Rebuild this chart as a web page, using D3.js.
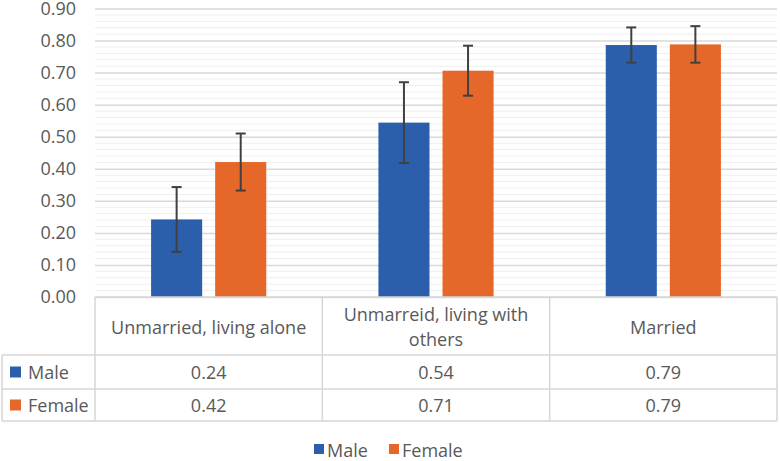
<!DOCTYPE html>
<html><head><meta charset="utf-8">
<script src="https://cdn.jsdelivr.net/npm/d3@7"></script>
<style>
html,body{margin:0;padding:0;background:#fff;}
svg{display:block;font-family:"Open Sans",sans-serif;}
</style></head>
<body><svg id="c" width="780" height="461"></svg>
<script>
const categories = ["Unmarried, living alone", "Unmarreid, living with others", "Married"];
const seriesNames = ["Male", "Female"];
const maleValues = [0.242, 0.544, 0.786];
const femaleValues = [0.421, 0.706, 0.788];
const maleErrors = [0.101, 0.126, 0.055];
const femaleErrors = [0.089, 0.078, 0.057];
const yTicks = [0, 0.1, 0.2, 0.3, 0.4, 0.5, 0.6, 0.7, 0.8, 0.9];
const colors = ["#2B5FAC", "#E6672A"];

const series = [
  {name: seriesNames[0], values: maleValues, errors: maleErrors, color: colors[0]},
  {name: seriesNames[1], values: femaleValues, errors: femaleErrors, color: colors[1]}
];

const svg = d3.select("#c");
const L = 95, R = 777, T = 8.5, B = 297;
const tableLeft = 2;
const rowY = [297, 355, 389, 421];
const textColor = "#595959";
const fontSize = 18;

const y = d3.scaleLinear().domain([0, 0.9]).range([B, T]);
const x0 = d3.scaleBand().domain(categories).range([L, R]).paddingInner(0).paddingOuter(0);
const x1 = d3.scaleBand().domain(seriesNames).range([0, x0.bandwidth()]).paddingInner(0.203).paddingOuter(0.875);

// minor gridlines
const minor = d3.range(0, 0.9001, 0.02).filter(v => Math.abs(Math.round(v * 10) - v * 10) > 1e-6);
svg.append("g").selectAll("line").data(minor).join("line")
  .attr("x1", L).attr("x2", R)
  .attr("y1", d => y(d)).attr("y2", d => y(d))
  .attr("stroke", "#eeeeee").attr("stroke-width", 1);

// y axis with major gridlines
const yAxis = d3.axisLeft(y).tickValues(yTicks).tickFormat(d3.format(".2f")).tickSize(-(R - L)).tickPadding(19);
const gy = svg.append("g").attr("transform", `translate(${L},0)`).call(yAxis);
gy.select(".domain").remove();
gy.selectAll(".tick line").attr("stroke", "#d9d9d9").attr("stroke-width", 1.5);
gy.selectAll(".tick text").attr("fill", textColor).attr("font-size", fontSize)
  .attr("font-family", "'Open Sans',sans-serif");

// bars
const gBars = svg.append("g");
series.forEach(s => {
  gBars.append("g").selectAll("rect").data(categories).join("rect")
    .attr("x", (c) => x0(c) + x1(s.name))
    .attr("width", x1.bandwidth())
    .attr("y", (c, i) => y(s.values[i]))
    .attr("height", (c, i) => y(0) - y(s.values[i]))
    .attr("fill", s.color);
});

// error bars
const gErr = svg.append("g").attr("stroke", "#404040").attr("stroke-width", 2);
series.forEach(s => {
  categories.forEach((c, i) => {
    const cx = x0(c) + x1(s.name) + x1.bandwidth() / 2;
    const lo = y(s.values[i] - s.errors[i]), hi = y(s.values[i] + s.errors[i]);
    gErr.append("line").attr("x1", cx).attr("x2", cx).attr("y1", lo).attr("y2", hi);
    gErr.append("line").attr("x1", cx - 5).attr("x2", cx + 5).attr("y1", lo).attr("y2", lo);
    gErr.append("line").attr("x1", cx - 5).attr("x2", cx + 5).attr("y1", hi).attr("y2", hi);
  });
});

// data table
const gT = svg.append("g");
const border = "#d6d6d6";
const bw = 1.5;
gT.append("line").attr("x1", L).attr("x2", R).attr("y1", rowY[0]).attr("y2", rowY[0]).attr("stroke", border).attr("stroke-width", bw);
[rowY[1], rowY[2], rowY[3]].forEach(yy => {
  gT.append("line").attr("x1", tableLeft).attr("x2", R).attr("y1", yy).attr("y2", yy).attr("stroke", border).attr("stroke-width", bw);
});
gT.append("line").attr("x1", tableLeft).attr("x2", tableLeft).attr("y1", rowY[1]).attr("y2", rowY[3]).attr("stroke", border).attr("stroke-width", bw);
const vx = categories.map(c => x0(c)).concat([R]);
vx.forEach(xx => {
  gT.append("line").attr("x1", xx).attr("x2", xx).attr("y1", rowY[0]).attr("y2", rowY[3]).attr("stroke", border).attr("stroke-width", bw);
});

// category labels with wrap
const maxW = x0.bandwidth() - 14;
categories.forEach(c => {
  const cx = x0(c) + x0.bandwidth() / 2;
  const words = c.split(" ");
  const lines = [];
  let cur = "";
  const tmp = gT.append("text").attr("font-size", fontSize);
  words.forEach(w => {
    const test = cur ? cur + " " + w : w;
    tmp.text(test);
    if (tmp.node().getComputedTextLength() > maxW && cur) { lines.push(cur); cur = w; }
    else cur = test;
  });
  lines.push(cur);
  tmp.remove();
  const lh = 25.5;
  const midY = (rowY[0] + rowY[1]) / 2 + 0.5;
  lines.forEach((ln, k) => {
    gT.append("text").attr("x", cx).attr("y", midY + (k - (lines.length - 1) / 2) * lh)
      .attr("text-anchor", "middle").attr("dominant-baseline", "central")
      .attr("fill", textColor).attr("font-size", fontSize).text(ln);
  });
});

// value rows
const fmt = d3.format(".2f");
series.forEach((s, si) => {
  const cy = (rowY[si + 1] + rowY[si + 2]) / 2;
  gT.append("rect").attr("x", 10).attr("y", cy - 5.5).attr("width", 11).attr("height", 11).attr("fill", s.color);
  gT.append("text").attr("x", 28).attr("y", cy).attr("dominant-baseline", "central")
    .attr("fill", textColor).attr("font-size", fontSize).text(s.name);
  categories.forEach((c, i) => {
    gT.append("text").attr("x", x0(c) + x0.bandwidth() / 2).attr("y", cy)
      .attr("text-anchor", "middle").attr("dominant-baseline", "central")
      .attr("fill", textColor).attr("font-size", fontSize).text(fmt(s.values[i]));
  });
});

// legend
const gL = svg.append("g");
const legX = [314, 389];
series.forEach((s, i) => {
  gL.append("rect").attr("x", legX[i]).attr("y", 444).attr("width", 10).attr("height", 10).attr("fill", s.color);
  gL.append("text").attr("x", legX[i] + 13).attr("y", 449.5).attr("dominant-baseline", "central")
    .attr("fill", textColor).attr("font-size", fontSize).text(s.name);
});
</script>
</body></html>
